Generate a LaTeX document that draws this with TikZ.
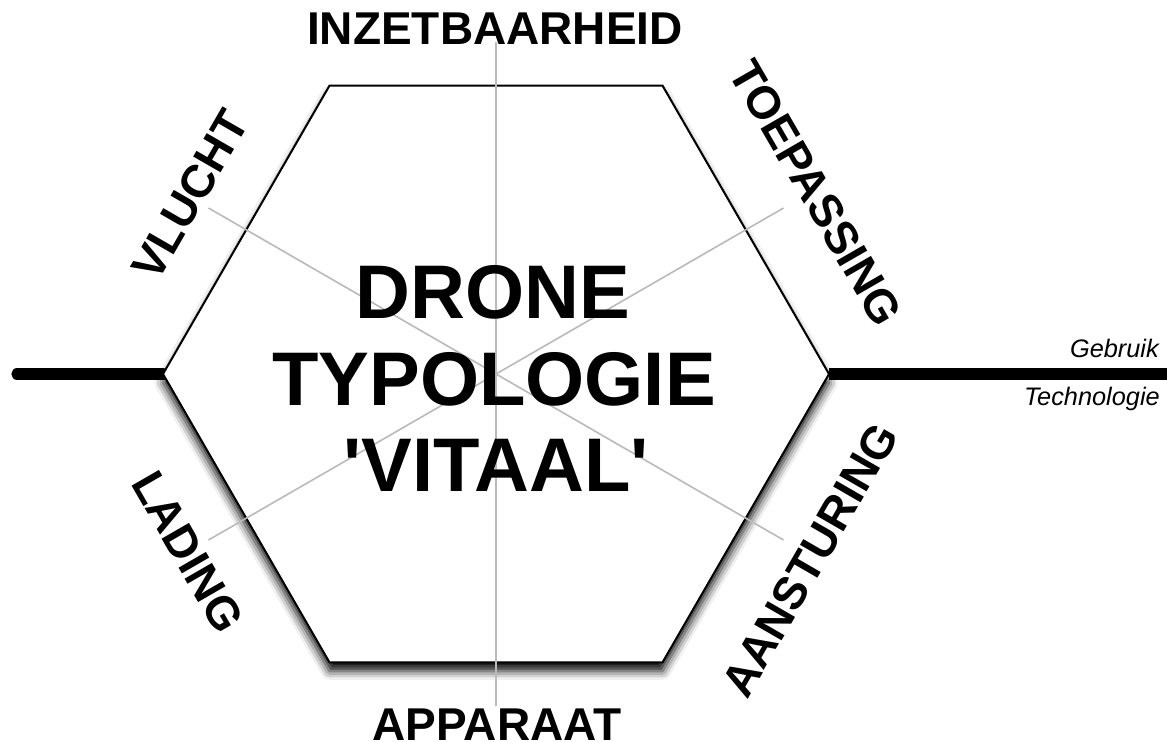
\documentclass[tikz,border=0pt]{standalone}
\usepackage{fontspec}
\setmainfont{Liberation Sans}[Ligatures=TeXOff]
\usetikzlibrary{shadows.blur}
\tikzset{
  hexbox/.style={draw=black, line width=1.5pt, fill=white, line join=miter,
    blur shadow={shadow xshift=0pt, shadow yshift=-6.5pt, shadow blur radius=6.5pt, shadow opacity=95}},
  spoke/.style={draw=black!27, line width=1.2pt},
  axisline/.style={draw=black, line width=8.5pt},
  title/.style={font=\bfseries\fontsize{57}{65}\selectfont, inner sep=0pt},
  facet/.style={font=\bfseries\fontsize{34.5}{40}\selectfont, inner sep=0pt},
  sidenote/.style={font=\itshape\fontsize{19}{22}\selectfont, inner sep=0pt}
}
\begin{document}
\begin{tikzpicture}[x=0.75pt,y=-0.75pt]
\useasboundingbox (0,0) rectangle (1167,742);
% axis line
\coordinate (C) at (496,374);
\coordinate (hR) at (829,374);
\coordinate (hTR) at (662.5,85.6);
\coordinate (hTL) at (329.5,85.6);
\coordinate (hL) at (163,374);
\coordinate (hBL) at (329.5,662.4);
\coordinate (hBR) at (662.5,662.4);
\coordinate (axL) at (17,374);
\coordinate (axR) at (1175,374);
\draw[axisline, line cap=round] (axL) -- (hL);
\draw[axisline] (hR) -- (axR);
% hexagon
\path[hexbox] (hR) -- (hTR) -- (hTL) -- (hL) -- (hBL) -- (hBR) -- cycle;
% spokes
\coordinate (sT) at (496,42);
\coordinate (sB) at (496,706);
\coordinate (sTR) at (783.5,208);
\coordinate (sTL) at (208.5,208);
\coordinate (sBL) at (208.5,540);
\coordinate (sBR) at (783.5,540);
\draw[spoke] (C) -- (sT);
\draw[spoke] (C) -- (sB);
\draw[spoke] (C) -- (sTR);
\draw[spoke] (C) -- (sTL);
\draw[spoke] (C) -- (sBL);
\draw[spoke] (C) -- (sBR);
% title
\node[title, anchor=base] (t1) at (493,318) {DRONE};
\node[title, anchor=base] (t2) at (494,405) {TYPOLOGIE};
\node[title, anchor=base] (t3) at (496,491) {'VITAAL'};
% facet labels
\node[facet, anchor=base] (inz) at (495,45) {INZETBAARHEID};
\node[facet, anchor=base] (app) at (497,740) {APPARAAT};
\node[facet, rotate=60] (vl) at (190,195) {VLUCHT};
\node[facet, rotate=-60] (toe) at (816,193) {TOEPASSING};
\node[facet, rotate=-60] (lad) at (188,552) {LADING};
\node[facet, rotate=60] (aan) at (810,560) {AANSTURING};
% side notes
\node[sidenote, anchor=base east] (geb) at (1159,357) {Gebruik};
\node[sidenote, anchor=base east] (tec) at (1160,405) {Technologie};
\end{tikzpicture}
\end{document}
